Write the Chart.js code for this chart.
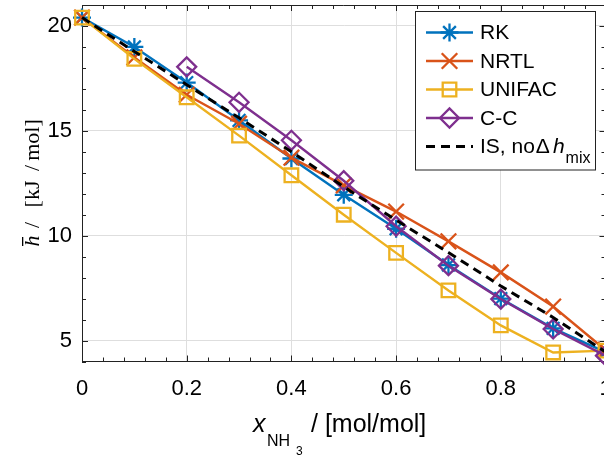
<!DOCTYPE html>
<html>
<head>
<meta charset="utf-8">
<script src="https://cdn.jsdelivr.net/npm/chart.js@4.4.1/dist/chart.umd.min.js"></script>
<style>
  html, body { margin: 0; padding: 0; background: #fff; overflow: hidden; }
  #wrap { width: 620px; height: 457px; }
</style>
</head>
<body>
<div id="wrap"><canvas id="enthalpyChart" width="620" height="457"></canvas></div>
<script>
// molar fraction of NH3 and mean molar enthalpy in kJ/mol
const xValues = [0, 0.1, 0.2, 0.3, 0.4, 0.5, 0.6, 0.7, 0.8, 0.9, 1];
const rkValues = [20.4, 19.0, 17.3, 15.5, 13.68, 11.95, 10.33, 8.6, 7.0, 5.58, 4.45];
const nrtlValues = [20.4, 18.5, 16.72, 15.34, 13.72, 12.4, 11.15, 9.73, 8.25, 6.62, 4.55];
const unifacValues = [20.4, 18.43, 16.6, 14.77, 12.88, 11.0, 9.18, 7.39, 5.72, 4.43, 4.52];
const ccValues = [null, null, 18.05, 16.36, 14.55, 12.62, 10.45, 8.57, 6.98, 5.55, 4.28];
const isValues = [20.4, 18.78, 17.2, 15.62, 14.0, 12.33, 10.74, 9.2, 7.6, 6.1, 4.45];
const seriesNames = ["RK", "NRTL", "UNIFAC", "C-C", "IS, no"];

const xTicks = [0, 0.2, 0.4, 0.6, 0.8, 1];
const xTickLabels = ["0", "0.2", "0.4", "0.6", "0.8", "1"];
const yTicks = [5, 10, 15, 20];
const yTickLabels = ["5", "10", "15", "20"];
const xMinorStep = 0.04;
const yMinorStep = 1;

const sans = '"Liberation Sans", Arial, sans-serif';
const serif = '"Liberation Serif", "Times New Roman", serif';

const toPoints = (vals) => xValues.map((x, i) => ({ x: x, y: vals[i] }));

function series(name, vals, color, style, radius, order) {
  return {
    label: name,
    data: toPoints(vals),
    borderColor: color,
    backgroundColor: "rgba(0,0,0,0)",
    borderWidth: 2.4,
    pointStyle: style,
    pointRadius: radius,
    pointBorderWidth: 2.3,
    pointBorderColor: color,
    pointBackgroundColor: "rgba(0,0,0,0)",
    tension: 0,
    clip: false,
    order: order,
  };
}

const datasets = [
  series(seriesNames[0], rkValues, "#0072BD", "star", 9, 5),
  series(seriesNames[1], nrtlValues, "#D95319", "crossRot", 11, 4),
  series(seriesNames[2], unifacValues, "#EDB120", "rect", 9.6, 3),
  series(seriesNames[3], ccValues, "#7E2F8E", "rectRot", 9.5, 2),
  {
    label: seriesNames[4],
    data: toPoints(isValues),
    borderColor: "#000",
    borderWidth: 3,
    borderDash: [9, 6],
    pointRadius: 0,
    tension: 0,
    clip: false,
    order: 1,
  },
];

// inward ticks on all four sides plus the top/right frame lines
const boxTicks = {
  id: "boxTicks",
  beforeDatasetsDraw(chart) {
    const { ctx, chartArea: a, scales } = chart;
    const xs = scales.x, ys = scales.y;
    ctx.save();
    ctx.strokeStyle = "#222";
    ctx.lineWidth = 1;
    ctx.beginPath();
    ctx.moveTo(a.left, a.top + 0.5);
    ctx.lineTo(a.right, a.top + 0.5);
    ctx.moveTo(a.right - 0.5, a.top);
    ctx.lineTo(a.right - 0.5, a.bottom);
    const nx = Math.round((xs.max - xs.min) / xMinorStep);
    for (let k = 0; k <= nx; k++) {
      const v = xs.min + k * xMinorStep;
      const px = Math.round(xs.getPixelForValue(v)) + 0.5;
      const len = k % 5 === 0 ? 6 : 4;
      ctx.moveTo(px, a.bottom);
      ctx.lineTo(px, a.bottom - len);
      ctx.moveTo(px, a.top);
      ctx.lineTo(px, a.top + len);
    }
    for (let v = Math.ceil(ys.min); v <= ys.max; v += yMinorStep) {
      const py = Math.round(ys.getPixelForValue(v)) + 0.5;
      const len = v % 5 === 0 ? 6 : 4;
      ctx.moveTo(a.left, py);
      ctx.lineTo(a.left + len, py);
      ctx.moveTo(a.right, py);
      ctx.lineTo(a.right - len, py);
    }
    ctx.stroke();
    ctx.restore();
  },
  afterDraw(chart) {
    const { ctx } = chart;
    ctx.save();
    ctx.fillStyle = "#000";
    ctx.textBaseline = "alphabetic";

    // x axis title: x_NH3 / [mol/mol]
    ctx.font = "italic 25px " + sans;
    ctx.fillText("x", 253, 432);
    ctx.font = "16px " + sans;
    ctx.fillText("NH", 267, 446);
    ctx.font = "12px " + sans;
    ctx.fillText("3", 296, 455);
    ctx.font = "25px " + sans;
    ctx.fillText("/ [mol/mol]", 311, 432);

    // y axis title, rotated
    ctx.translate(39, 0);
    ctx.rotate(-Math.PI / 2);
    ctx.textAlign = "center";
    const piece = (txt, cy, font) => {
      ctx.font = font;
      ctx.fillText(txt, -cy, 0);
    };
    piece("h", 241, "italic 22px " + serif);
    ctx.fillRect(-246, -17, 9, 1.3);
    piece("/", 225, "22px " + serif);
    piece("[kJ", 194, "22px " + serif);
    piece("/", 168, "22px " + serif);
    piece("mol]", 140, "22px " + serif);
    ctx.restore();

    // legend
    const lx = 415.5, ly = 11.5, lw = 180, lh = 158.5;
    ctx.save();
    ctx.fillStyle = "#fff";
    ctx.fillRect(lx, ly, lw, lh);
    ctx.strokeStyle = "#222";
    ctx.lineWidth = 1;
    ctx.strokeRect(lx, ly, lw, lh);
    chart.data.datasets.forEach((ds, i) => {
      const y = 32.5 + i * 28.5;
      ctx.save();
      ctx.strokeStyle = ds.borderColor;
      ctx.lineWidth = ds.borderWidth;
      ctx.setLineDash(ds.borderDash || []);
      ctx.beginPath();
      ctx.moveTo(426, y);
      ctx.lineTo(473, y);
      ctx.stroke();
      ctx.setLineDash([]);
      if (ds.pointRadius > 0) {
        ctx.fillStyle = "rgba(0,0,0,0)";
        ctx.lineWidth = ds.pointBorderWidth;
        Chart.helpers.drawPoint(ctx, {
          pointStyle: ds.pointStyle,
          radius: ds.pointRadius,
          rotation: 0,
          borderWidth: ds.pointBorderWidth,
        }, 449.5, y);
      }
      ctx.restore();
      ctx.fillStyle = "#000";
      ctx.textBaseline = "middle";
      ctx.font = "21px " + sans;
      ctx.fillText(ds.label, 480, y + 1);
      if (i === 4) {
        let x = 480 + ctx.measureText(ds.label).width + 1;
        ctx.fillText("\u0394", x, y + 1);
        x += ctx.measureText("\u0394").width + 3;
        ctx.font = "italic 21px " + sans;
        ctx.fillText("h", x, y + 1);
        x += ctx.measureText("h").width + 1;
        ctx.font = "16px " + sans;
        ctx.fillText("mix", x, y + 12);
      }
    });
    ctx.restore();
  },
};

new Chart(document.getElementById("enthalpyChart"), {
  type: "line",
  data: { datasets: datasets },
  options: {
    responsive: false,
    animation: false,
    devicePixelRatio: 1,
    layout: { autoPadding: false, padding: { top: 5, right: 14.5, bottom: 0, left: 0 } },
    plugins: { legend: { display: false }, tooltip: { enabled: false } },
    scales: {
      x: {
        type: "linear",
        min: 0,
        max: 1,
        afterBuildTicks: (s) => { s.ticks = xTicks.map((v) => ({ value: v })); },
        afterFit: (s) => {
          s.height = 95.5;
          s.paddingLeft = 0;
          s.paddingRight = 0;
        },
        ticks: {
          autoSkip: false,
          maxRotation: 0,
          padding: 14,
          color: "#000",
          font: { family: sans, size: 22 },
          callback: (v) => xTickLabels[xTicks.indexOf(v)],
        },
        grid: { color: "#dedede", lineWidth: 1, drawTicks: false },
        border: { color: "#222", width: 1 },
      },
      y: {
        type: "linear",
        min: 4,
        max: 21,
        afterBuildTicks: (s) => { s.ticks = yTicks.map((v) => ({ value: v })); },
        afterFit: (s) => {
          s.width = 82;
          s.paddingTop = 0;
          s.paddingBottom = 0;
        },
        ticks: {
          padding: 10,
          color: "#000",
          font: { family: sans, size: 22 },
          callback: (v) => yTickLabels[yTicks.indexOf(v)],
        },
        grid: { color: "#dedede", lineWidth: 1, drawTicks: false },
        border: { color: "#222", width: 1 },
      },
    },
  },
  plugins: [boxTicks],
});
</script>
</body>
</html>
